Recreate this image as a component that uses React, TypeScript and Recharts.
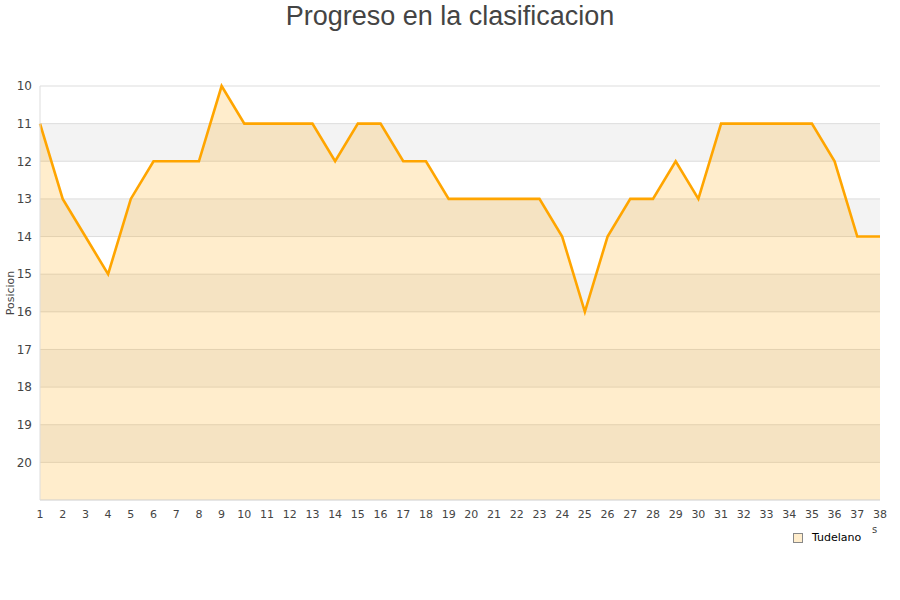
import React from 'react';
import {
  Area,
  AreaChart,
  CartesianGrid,
  Legend,
  XAxis,
  YAxis,
} from 'recharts';

const jornadas = [
  1, 2, 3, 4, 5, 6, 7, 8, 9, 10, 11, 12, 13, 14, 15, 16, 17, 18, 19, 20, 21, 22, 23, 24, 25, 26,
  27, 28, 29, 30, 31, 32, 33, 34, 35, 36, 37, 38,
];
const posiciones = [
  11, 13, 14, 15, 13, 12, 12, 12, 10, 11, 11, 11, 11, 12, 11, 11, 12, 12, 13, 13, 13, 13, 13, 14,
  16, 14, 13, 13, 12, 13, 11, 11, 11, 11, 11, 12, 14, 14,
];
const yTicks = [10, 11, 12, 13, 14, 15, 16, 17, 18, 19, 20];
const equipo = 'Tudelano';

const data = jornadas.map((j, i) => ({ jornada: j, pos: posiciones[i] }));

const ORANGE = '#ffa500';

const LegendBox = () => (
  <div style={{ display: 'flex', alignItems: 'center', fontFamily: 'DejaVu Sans', fontSize: 11, color: '#000' }}>
    <span
      style={{
        display: 'inline-block',
        width: 8,
        height: 8,
        background: '#ffedcc',
        border: '1px solid #888',
        marginRight: 9,
      }}
    />
    {equipo}
  </div>
);

export default function App() {
  return (
    <div style={{ position: 'absolute', left: 0, top: 0, width: 900, height: 600, background: '#fff' }}>
      <div
        style={{
          position: 'absolute',
          top: 0,
          width: 900,
          textAlign: 'center',
          fontFamily: 'Liberation Sans, Arial, sans-serif',
          fontSize: 27,
          color: '#444',
          lineHeight: '32px',
        }}
      >
        Progreso en la clasificacion
      </div>
      <AreaChart width={900} height={600} data={data} margin={{ top: 86, right: 20, left: 0, bottom: 70 }}>
        <CartesianGrid
          vertical={false}
          stroke="#ddd"
          horizontalFill={['#ffffff', '#f3f3f3']}
          fillOpacity={1}
        />
        <XAxis
          dataKey="jornada"
          type="number"
          domain={[1, 38]}
          ticks={jornadas}
          interval={0}
          tickLine={false}
          axisLine={{ stroke: '#ddd' }}
          tick={{ fontFamily: 'DejaVu Sans', fontSize: 11, fill: '#444', dy: 2 }}
          height={17}
        />
        <YAxis
          type="number"
          domain={[10, 21]}
          reversed
          ticks={yTicks}
          interval={0}
          tickLine={false}
          axisLine={{ stroke: '#ddd' }}
          width={40}
          tick={{ fontFamily: 'DejaVu Sans', fontSize: 12, fill: '#444' }}
          label={{
            value: 'Posicion',
            angle: -90,
            position: 'insideLeft',
            offset: 10,
            style: { fontFamily: 'DejaVu Sans', fontSize: 11, fill: '#444', textAnchor: 'middle' },
          }}
        />
        <YAxis
          yAxisId="borde"
          orientation="right"
          type="number"
          domain={[10, 21]}
          reversed
          tick={false}
          tickLine={false}
          axisLine={{ stroke: '#ddd' }}
          width={0}
        />
        <Area
          type="linear"
          dataKey="pos"
          baseValue={21}
          stroke={ORANGE}
          strokeWidth={2.6}
          fill={ORANGE}
          fillOpacity={0.2}
          dot={false}
          activeDot={false}
          isAnimationActive={false}
        />
        <Legend
          content={<LegendBox />}
          wrapperStyle={{ position: 'absolute', left: 793, top: 531, width: 'auto' }}
        />
      </AreaChart>
      <div
        style={{
          position: 'absolute',
          left: 872,
          top: 524,
          fontFamily: 'DejaVu Sans',
          fontSize: 10,
          color: '#444',
        }}
      >
        s
      </div>
    </div>
  );
}
